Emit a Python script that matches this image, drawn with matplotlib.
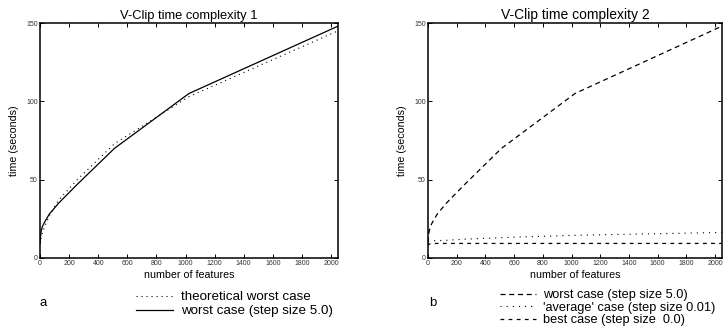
import matplotlib
matplotlib.use("Agg")
import matplotlib.pyplot as plt

plt.rcParams["font.family"] = ["Liberation Sans", "DejaVu Sans"]

# number of features (powers of two)
features = [1, 2, 4, 8, 16, 32, 64, 128, 256, 512, 1024, 2048]

# time in seconds
theoretical_worst = [9, 10, 11, 13, 16, 20, 27, 37, 50, 73, 103, 145]
worst_case = [10, 12, 14, 17, 20, 23, 28, 35, 47, 70, 105, 148]
average_case = [10.5, 10.6, 10.7, 10.8, 10.9, 11.0, 11.1, 11.3, 12.0, 13.0, 14.5, 16.3]
best_case = [9.5, 8.8, 8.5, 8.8, 9.0, 9.2, 9.3, 9.3, 9.3, 9.3, 9.3, 9.3]

x_ticks = list(range(0, 2001, 200))
y_ticks = [0, 50, 100, 150]

W, H = 723, 328
fig = plt.figure(figsize=(W / 100, H / 100), dpi=100)


def px_box(left, top, right, bottom):
    return [left / W, 1 - bottom / H, (right - left) / W, (bottom - top) / H]


def style_axes(ax, title, title_size):
    ax.set_xlim(0, 2048)
    ax.set_ylim(0, 150)
    ax.set_xticks(x_ticks)
    ax.set_yticks(y_ticks)
    ax.tick_params(direction="in", top=True, right=True, length=3,
                   width=0.7, labelsize=5, pad=1.5, labelcolor="#333333")
    for spine in ax.spines.values():
        spine.set_linewidth(1.1)
    ax.set_title(title, fontsize=title_size, pad=3)
    ax.set_xlabel("number of features", fontsize=7.7, labelpad=2)
    ax.set_ylabel("time (seconds)", fontsize=7.7, labelpad=5)


# panel a
ax1 = fig.add_axes(px_box(40, 23, 338, 258))
l1, = ax1.plot(features, theoretical_worst, color="black", lw=0.8,
               linestyle=(0, (1, 3.5)))
l2, = ax1.plot(features, worst_case, color="black", lw=0.9)
style_axes(ax1, "V-Clip time complexity 1", 9.3)
ax1.legend([l1, l2], ["theoretical worst case", "worst case (step size 5.0)"],
           loc="upper left", bbox_to_anchor=(136 / W, 1 - 291 / H),
           bbox_transform=fig.transFigure, frameon=False, fontsize=9.6,
           handlelength=2.8, handletextpad=0.6, labelspacing=0.12,
           borderpad=0, borderaxespad=0)
fig.text(43 / W, 1 - 303 / H, "a", fontsize=9.5, ha="center", va="center")

# panel b
ax2 = fig.add_axes(px_box(428, 23, 722, 258))
m1, = ax2.plot(features, worst_case, color="black", lw=0.9,
               linestyle=(0, (4, 3)))
m2, = ax2.plot(features, average_case, color="black", lw=0.8,
               linestyle=(0, (1, 4.5)))
m3, = ax2.plot(features, best_case, color="black", lw=0.9,
               linestyle=(0, (3, 3.5)))
style_axes(ax2, "V-Clip time complexity 2", 10)
ax2.legend([m1, m2, m3],
           ["worst case (step size 5.0)", "'average' case (step size 0.01)",
            "best case (step size  0.0)"],
           loc="upper left", bbox_to_anchor=(500 / W, 1 - 289 / H),
           bbox_transform=fig.transFigure, frameon=False, fontsize=9.2,
           handlelength=2.85, handletextpad=0.55, labelspacing=0.05,
           borderpad=0, borderaxespad=0)
fig.text(433 / W, 1 - 303 / H, "b", fontsize=9.5, ha="center", va="center")

fig.savefig("out.png", dpi=100)
